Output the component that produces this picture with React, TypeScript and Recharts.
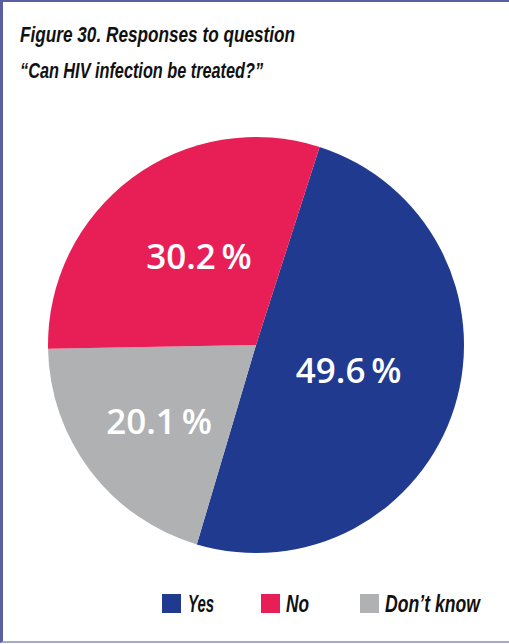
import React, { useLayoutEffect, useRef, useState } from "react";
import { PieChart, Pie, Cell } from "recharts";

const titleLines = ["Figure 30. Responses to question", "\u201cCan HIV infection be treated?\u201d"];
const categories = ["Yes", "Don\u2019t know", "No"];
const values = [49.6, 20.1, 30.2];
const legendOrder = ["Yes", "No", "Don\u2019t know"];

const COLORS: Record<string, string> = {
  Yes: "#203a8f",
  No: "#e81f56",
  "Don\u2019t know": "#b0b1b3",
};
const LABEL_POS: Record<string, { r: number; dx: number; dy: number }> = {
  Yes: { r: 97, dx: 0, dy: -4 },
  No: { r: 104, dx: 5, dy: -6 },
  "Don\u2019t know": { r: 123, dx: 1, dy: 1 },
};

const TITLE_LAYOUT = [
  { x: 20, y: 42, w: 275 },
  { x: 20, y: 78, w: 243 },
];
const LEGEND_LAYOUT: Record<string, { sx: number; tx: number; tw: number }> = {
  Yes: { sx: 162, tx: 188, tw: 26 },
  No: { sx: 261, tx: 286, tw: 23 },
  "Don\u2019t know": { sx: 360, tx: 385, tw: 95 },
};

const data = categories.map((name, i) => ({ name, value: values[i] }));

const RAD = Math.PI / 180;
const FONT = "'Liberation Sans', Arial, sans-serif";

function FitText({ x, y, w, size, children }: { x: number; y: number; w: number; size: number; children: string }) {
  const ref = useRef<SVGTextElement>(null);
  const [s, setS] = useState(0.7);
  useLayoutEffect(() => {
    if (ref.current) {
      const n = ref.current.getComputedTextLength();
      if (n > 0) setS(w / n);
    }
  }, [w, children]);
  return (
    <text
      ref={ref}
      x={0}
      y={0}
      transform={`translate(${x},${y}) scale(${s},1)`}
      fontFamily={FONT}
      fontStyle="italic"
      fontWeight={700}
      fontSize={size}
      fill="#111111"
    >
      {children}
    </text>
  );
}

const renderLabel = (props: any) => {
  const { cx, cy, midAngle, index } = props;
  const name = data[index].name;
  const P = LABEL_POS[name];
  const x = cx + P.r * Math.cos(-midAngle * RAD) + P.dx;
  const y = cy + P.r * Math.sin(-midAngle * RAD) + P.dy;
  return (
    <text
      x={x}
      y={y}
      fill="#ffffff"
      textAnchor="middle"
      dominantBaseline="central"
      fontFamily="'Open Sans', sans-serif"
      fontWeight={600}
      fontSize={35}
    >
      {data[index].value.toFixed(1) + "\u2009%"}
    </text>
  );
};

export default function App() {
  return (
    <div
      style={{
        position: "absolute",
        left: 0,
        top: 0,
        width: 509,
        height: 644,
        background: "#ffffff",
        overflow: "hidden",
      }}
    >
      <div
        style={{
          position: "absolute",
          left: 0,
          top: 0,
          width: 540,
          height: 643,
          borderLeft: "3px solid #5a5ea2",
          borderTop: "2px solid #5a5ea2",
          borderBottom: "2px solid #a3a9c8",
          boxSizing: "border-box",
        }}
      />
      <div style={{ position: "absolute", left: 0, top: 0 }}>
        <PieChart width={509} height={644} margin={{ top: 0, right: 0, bottom: 0, left: 0 }}>
          <Pie
            data={data}
            dataKey="value"
            nameKey="name"
            cx={256}
            cy={345}
            outerRadius={208}
            startAngle={72.2}
            endAngle={72.2 - 360}
            stroke="none"
            labelLine={false}
            label={renderLabel}
            isAnimationActive={false}
          >
            {data.map((d) => (
              <Cell key={d.name} fill={COLORS[d.name]} />
            ))}
          </Pie>
        </PieChart>
      </div>
      <svg
        width={509}
        height={644}
        style={{ position: "absolute", left: 0, top: 0, pointerEvents: "none" }}
      >
        {titleLines.map((t, i) => (
          <FitText key={i} x={TITLE_LAYOUT[i].x} y={TITLE_LAYOUT[i].y} w={TITLE_LAYOUT[i].w} size={22.5}>
            {t}
          </FitText>
        ))}
        {legendOrder.map((name) => {
          const L = LEGEND_LAYOUT[name];
          return (
            <g key={name}>
              <rect x={L.sx} y={594} width={19} height={19} fill={COLORS[name]} />
              <FitText x={L.tx} y={612} w={L.tw} size={24}>
                {name}
              </FitText>
            </g>
          );
        })}
      </svg>
    </div>
  );
}
